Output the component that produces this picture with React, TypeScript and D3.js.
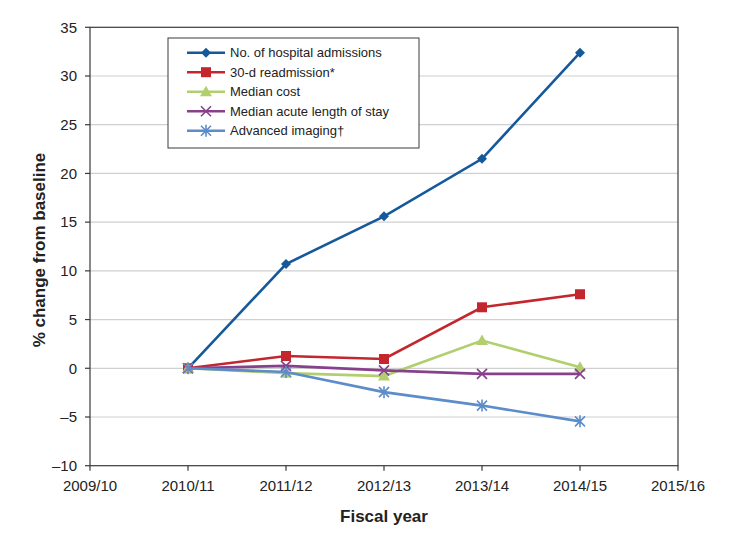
import React from "react";
import * as d3 from "d3";

const fiscalYears = ["2009/10", "2010/11", "2011/12", "2012/13", "2013/14", "2014/15", "2015/16"];
const dataYears = ["2010/11", "2011/12", "2012/13", "2013/14", "2014/15"];
const yTicks = [-10, -5, 0, 5, 10, 15, 20, 25, 30, 35];

const admissions = [0, 10.7, 15.6, 21.5, 32.4];
const readmission = [0, 1.26, 0.95, 6.26, 7.6];
const medianCost = [0, -0.5, -0.8, 2.85, 0.1];
const lengthOfStay = [0, 0.25, -0.22, -0.57, -0.57];
const imaging = [0, -0.38, -2.45, -3.83, -5.45];

const seriesNames = [
  "No. of hospital admissions",
  "30-d readmission*",
  "Median cost",
  "Median acute length of stay",
  "Advanced imaging\u2020",
];
const seriesValues = [admissions, readmission, medianCost, lengthOfStay, imaging];
const seriesColors = ["#15599a", "#c4262e", "#b2cf6f", "#87418a", "#5d8ccb"];
const seriesMarkers = ["diamond", "square", "triangle", "cross", "star"];

const W = 732;
const H = 548;
const left = 90;
const right = 678;
const top = 27.3;
const bottom = 465.7;

function Marker({ type, x, y, color }: { type: string; x: number; y: number; color: string }) {
  if (type === "diamond") {
    const s = 5;
    return <path d={`M${x},${y - s}L${x + s},${y}L${x},${y + s}L${x - s},${y}Z`} fill={color} />;
  }
  if (type === "square") {
    const s = 5;
    return <rect x={x - s} y={y - s} width={2 * s} height={2 * s} fill={color} />;
  }
  if (type === "triangle") {
    const s = 6;
    return <path d={`M${x},${y - s}L${x + s},${y + s * 0.75}L${x - s},${y + s * 0.75}Z`} fill={color} />;
  }
  if (type === "cross") {
    const s = 5;
    return (
      <path d={`M${x - s},${y - s}L${x + s},${y + s}M${x - s},${y + s}L${x + s},${y - s}`} stroke={color} strokeWidth={1.6} fill="none" />
    );
  }
  const s = 5;
  return (
    <path
      d={`M${x - s},${y - s}L${x + s},${y + s}M${x - s},${y + s}L${x + s},${y - s}M${x},${y - s - 1}L${x},${y + s + 1}`}
      stroke={color}
      strokeWidth={1.6}
      fill="none"
    />
  );
}

export default function App() {
  const x = d3.scalePoint<string>().domain(fiscalYears).range([left, right]);
  const y = d3.scaleLinear().domain([-10, 35]).range([bottom, top]);
  const line = d3
    .line<[string, number]>()
    .x((d) => x(d[0]) as number)
    .y((d) => y(d[1]));

  const legendX = 168;
  const legendY = 38;
  const legendW = 251;
  const legendH = 110;

  return (
    <svg width={W} height={H} style={{ position: "absolute", left: 0, top: 0, background: "#fff" }} fontFamily="'Liberation Sans', Arial, sans-serif">
      <rect x={0} y={0} width={W} height={H} fill="#fff" />
      {yTicks
        .filter((t) => t !== -10 && t !== 35)
        .map((t) => (
          <line key={"g" + t} x1={left} x2={right} y1={y(t)} y2={y(t)} stroke="#d0d0d0" strokeWidth={1.2} />
        ))}
      <rect x={left} y={top} width={right - left} height={bottom - top} fill="none" stroke="#3a3a3a" strokeWidth={1.2} />
      {yTicks.map((t) => (
        <g key={"yt" + t}>
          <line x1={left - 5} x2={left} y1={y(t)} y2={y(t)} stroke="#3a3a3a" strokeWidth={1.2} />
          <text x={left - 13} y={y(t)} dy="0.35em" textAnchor="end" fontSize={15} fill="#222">
            {t < 0 ? "\u2013" + Math.abs(t) : t}
          </text>
        </g>
      ))}
      {fiscalYears.map((c) => (
        <g key={"xt" + c}>
          <line x1={x(c)} x2={x(c)} y1={bottom} y2={bottom + 5} stroke="#3a3a3a" strokeWidth={1.2} />
          <text x={x(c)} y={bottom + 25} textAnchor="middle" fontSize={15} fill="#222">
            {c}
          </text>
        </g>
      ))}
      <text x={384} y={522} textAnchor="middle" fontSize={17} fontWeight="bold" fill="#222">
        Fiscal year
      </text>
      <text
        transform={`translate(45,250) rotate(-90)`}
        textAnchor="middle"
        fontSize={17}
        fontWeight="bold"
        fill="#222"
      >
        % change from baseline
      </text>
      {seriesValues.map((vals, i) => {
        const pts: [string, number][] = dataYears.map((d, j) => [d, vals[j]]);
        return (
          <g key={"s" + i}>
            <path d={line(pts) || ""} fill="none" stroke={seriesColors[i]} strokeWidth={2.6} />
            {pts.map((p, j) => (
              <Marker key={j} type={seriesMarkers[i]} x={x(p[0]) as number} y={y(p[1])} color={seriesColors[i]} />
            ))}
          </g>
        );
      })}
      <rect x={legendX} y={legendY} width={legendW} height={legendH} fill="#fff" stroke="#3a3a3a" strokeWidth={1} />
      {seriesNames.map((n, i) => {
        const ly = 52.7 + i * 19.5;
        return (
          <g key={"l" + i}>
            <line x1={187} x2={225} y1={ly} y2={ly} stroke={seriesColors[i]} strokeWidth={2.6} />
            <Marker type={seriesMarkers[i]} x={206} y={ly} color={seriesColors[i]} />
            <text x={230} y={ly} dy="0.35em" fontSize={13} fill="#222">
              {n}
            </text>
          </g>
        );
      })}
    </svg>
  );
}
